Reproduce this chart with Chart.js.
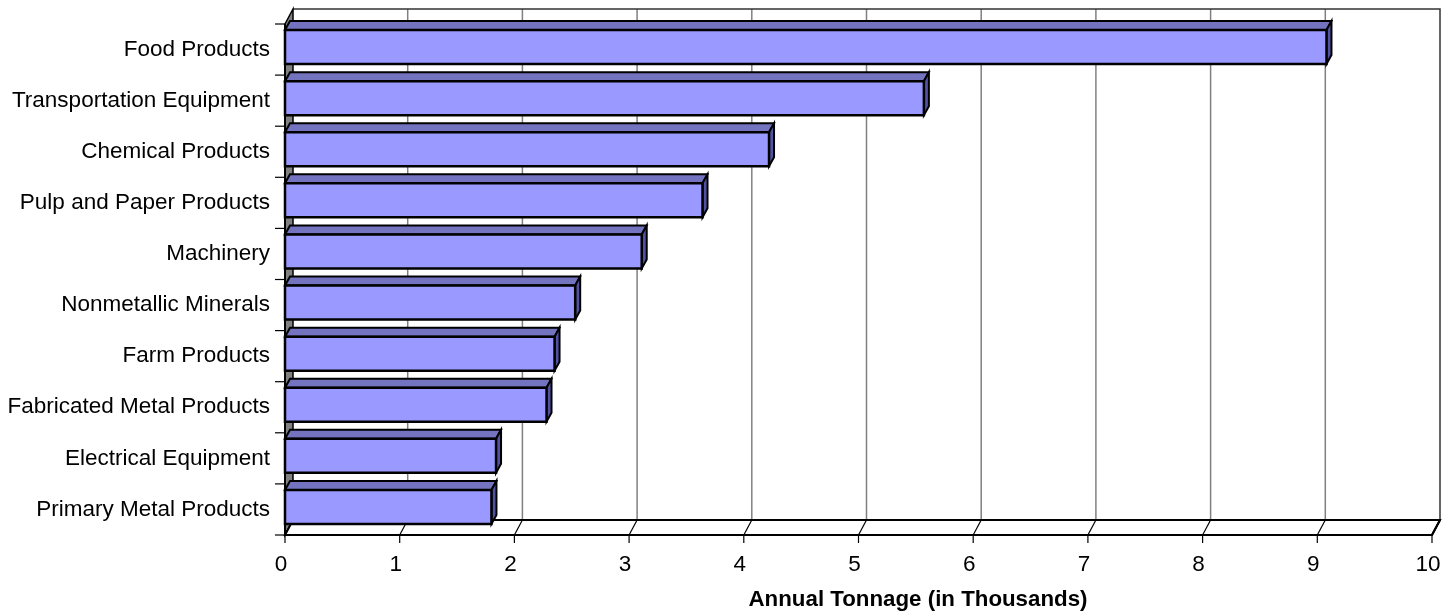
<!DOCTYPE html>
<html>
<head>
<meta charset="utf-8">
<script src="https://cdn.jsdelivr.net/npm/chart.js@4.4.1/dist/chart.umd.min.js"></script>
<style>
  html, body { margin: 0; padding: 0; background: #fff; }
  #wrap { width: 1456px; height: 615px; }
</style>
</head>
<body>
<div id="wrap"><canvas id="tonnageChart" width="1456" height="615"></canvas></div>
<script>
// --- data ---
const categories = [
    'Food Products', 'Transportation Equipment', 'Chemical Products', 'Pulp and Paper Products',
    'Machinery', 'Nonmetallic Minerals', 'Farm Products', 'Fabricated Metal Products',
    'Electrical Equipment', 'Primary Metal Products'
];
const tonnage = [9.08, 5.57, 4.22, 3.64, 3.11, 2.53, 2.35, 2.28, 1.84, 1.80];
const xMin = 0;
const xMax = 10;
const xStep = 1;
const axisTitle = 'Annual Tonnage (in Thousands)';

// 3D look
const WALL_DX = 8, WALL_DY = -15;
const BAR_DX = 5, BAR_DY = -9;
const FRONT = '#9999ff', TOP = '#7373bf', SIDE = '#5252a3';
const FONT = '"Liberation Sans", Arial, sans-serif';

function poly(ctx, pts, fill, stroke, lw) {
    ctx.beginPath();
    ctx.moveTo(pts[0][0], pts[0][1]);
    for (let i = 1; i < pts.length; i++) ctx.lineTo(pts[i][0], pts[i][1]);
    ctx.closePath();
    if (fill) { ctx.fillStyle = fill; ctx.fill(); }
    if (stroke) { ctx.strokeStyle = stroke; ctx.lineWidth = lw || 1; ctx.stroke(); }
}

const threeD = {
    id: 'threeD',
    beforeDatasetsDraw(chart) {
        const { ctx, chartArea: a, scales: { x } } = chart;
        const L = a.left, R = a.right, T = a.top, B = a.bottom;
        ctx.save();
        // back wall
        poly(ctx, [[L + WALL_DX, T + WALL_DY], [R + WALL_DX, T + WALL_DY], [R + WALL_DX, B + WALL_DY], [L + WALL_DX, B + WALL_DY]], '#fff', null);
        // back gridlines
        ctx.strokeStyle = '#808080';
        ctx.lineWidth = 1.5;
        for (let v = xMin + xStep; v < xMax; v += xStep) {
            const px = x.getPixelForValue(v) + WALL_DX;
            ctx.beginPath();
            ctx.moveTo(px, T + WALL_DY);
            ctx.lineTo(px, B + WALL_DY);
            ctx.stroke();
        }
        // wall outline
        ctx.strokeStyle = '#333';
        ctx.lineWidth = 1.5;
        ctx.beginPath();
        ctx.moveTo(L + WALL_DX, T + WALL_DY);
        ctx.lineTo(R + WALL_DX, T + WALL_DY);
        ctx.lineTo(R + WALL_DX, B + WALL_DY);
        ctx.stroke();
        // left side wall
        poly(ctx, [[L, T], [L + WALL_DX, T + WALL_DY], [L + WALL_DX, B + WALL_DY], [L, B]], '#808080', '#000', 1.5);
        // floor
        poly(ctx, [[L, B], [L + WALL_DX, B + WALL_DY], [R + WALL_DX, B + WALL_DY], [R, B]], '#fff', '#000', 2);
        ctx.strokeStyle = '#000';
        ctx.lineWidth = 1.2;
        for (let v = xMin; v <= xMax; v += xStep) {
            const px = x.getPixelForValue(v);
            ctx.beginPath();
            ctx.moveTo(px, B);
            ctx.lineTo(px + WALL_DX, B + WALL_DY);
            ctx.stroke();
            // tick mark below the axis
            ctx.beginPath();
            ctx.moveTo(px, B);
            ctx.lineTo(px, B + 8);
            ctx.stroke();
        }
        // category ticks on the left
        const band = (B - T) / categories.length;
        for (let i = 0; i <= categories.length; i++) {
            const py = T + i * band;
            ctx.beginPath();
            ctx.moveTo(L - 10, py);
            ctx.lineTo(L, py);
            ctx.stroke();
        }
        ctx.restore();
    },
    afterDatasetsDraw(chart) {
        const { ctx, chartArea: a } = chart;
        const meta = chart.getDatasetMeta(0);
        ctx.save();
        ctx.lineJoin = 'miter';
        meta.data.forEach(bar => {
            const x0 = bar.base, x1 = bar.x;
            const yt = bar.y - bar.height / 2 - 2.5;
            const yb = yt + bar.height;
            poly(ctx, [[x0, yt], [x1, yt], [x1 + BAR_DX, yt + BAR_DY], [x0 + BAR_DX, yt + BAR_DY]], TOP, '#000', 2);
            poly(ctx, [[x1, yt], [x1 + BAR_DX, yt + BAR_DY], [x1 + BAR_DX, yb + BAR_DY], [x1, yb]], SIDE, '#000', 2);
            poly(ctx, [[x0, yt], [x1, yt], [x1, yb], [x0, yb]], FRONT, '#000', 2.5);
        });
        // front axis lines
        ctx.strokeStyle = '#000';
        ctx.lineWidth = 2;
        ctx.beginPath();
        ctx.moveTo(a.left, a.top);
        ctx.lineTo(a.left, a.bottom);
        ctx.lineTo(a.right, a.bottom);
        ctx.lineTo(a.right + WALL_DX, a.bottom + WALL_DY);
        ctx.stroke();
        ctx.restore();
    },
    afterDraw(chart) {
        const { ctx } = chart;
        ctx.save();
        ctx.fillStyle = '#000';
        ctx.font = 'bold 22.3px ' + FONT;
        ctx.textAlign = 'center';
        ctx.textBaseline = 'alphabetic';
        ctx.fillText(axisTitle, 918, 606);
        ctx.restore();
    }
};

new Chart(document.getElementById('tonnageChart'), {
    type: 'bar',
    data: {
        labels: categories,
        datasets: [{
            data: tonnage,
            backgroundColor: 'rgba(0,0,0,0)',
            borderWidth: 0,
            barThickness: 34
        }]
    },
    options: {
        indexAxis: 'y',
        responsive: false,
        animation: false,
        layout: { padding: { top: 24, right: 24, left: 0, bottom: 0 } },
        plugins: {
            legend: { display: false },
            tooltip: { enabled: false }
        },
        scales: {
            x: {
                min: xMin,
                max: xMax,
                grid: { display: false, drawTicks: false },
                border: { display: false },
                ticks: {
                    stepSize: xStep,
                    color: '#000',
                    padding: 16,
                    labelOffset: -4,
                    maxRotation: 0,
                    font: { family: FONT, size: 22.5 }
                },
                afterFit(scale) {
                    scale.height = 80;
                    scale.paddingLeft = 0;
                    scale.paddingRight = 0;
                }
            },
            y: {
                grid: { display: false, drawTicks: false },
                border: { display: false },
                ticks: {
                    color: '#000',
                    padding: 15,
                    autoSkip: false,
                    font: { family: FONT, size: 22.5 }
                },
                afterFit(scale) {
                    scale.width = 285;
                    scale.paddingTop = 0;
                    scale.paddingBottom = 0;
                }
            }
        }
    },
    plugins: [threeD]
});
</script>
</body>
</html>
